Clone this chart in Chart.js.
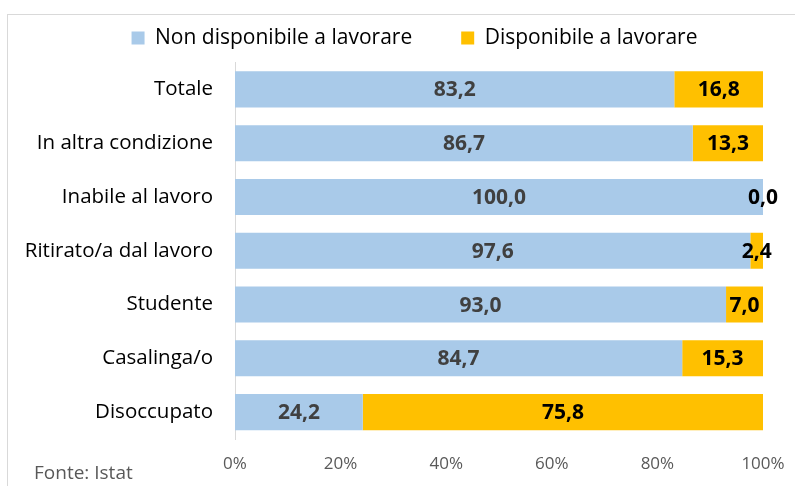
<!DOCTYPE html>
<html><head><meta charset="utf-8">
<script src="https://cdn.jsdelivr.net/npm/chart.js@4.4.0/dist/chart.umd.min.js"></script>
<style>html,body{margin:0;padding:0;background:#fff}#wrap{width:795px;height:486px}</style>
</head><body><div id="wrap"><canvas id="c" width="795" height="486"></canvas></div>
<script>
const categories = ["Totale","In altra condizione","Inabile al lavoro","Ritirato/a dal lavoro","Studente","Casalinga/o","Disoccupato"];
const nonDisponibile = [83.2, 86.7, 100.0, 97.6, 93.0, 84.7, 24.2];
const disponibile = [16.8, 13.3, 0.0, 2.4, 7.0, 15.3, 75.8];
const seriesNames = ["Non disponibile a lavorare","Disponibile a lavorare"];
const xTicks = [0, 20, 40, 60, 80, 100];
const sourceNote = "Fonte: Istat";

const FONT = "'Open Sans', sans-serif";
const LEGEND_SHIFT = 33;
const LEGEND_LIFT = 4;

const decor = {
  id: 'decor',
  afterLayout(chart) {
    if (chart.legend) {
      chart.legend.left += LEGEND_SHIFT; chart.legend.right += LEGEND_SHIFT;
      chart.legend.top -= LEGEND_LIFT; chart.legend.bottom -= LEGEND_LIFT;
    }
  },
  beforeDraw(chart) {
    const ctx = chart.ctx;
    ctx.save();
    ctx.fillStyle = '#fff';
    ctx.fillRect(0, 0, chart.width, chart.height);
    ctx.strokeStyle = '#d9d9d9';
    ctx.lineWidth = 1;
    ctx.strokeRect(7.5, 14.5, 800, 500);
    ctx.restore();
  },
  afterDraw(chart) {
    const ctx = chart.ctx;
    ctx.save();
    ctx.font = "19px " + FONT;
    ctx.fillStyle = '#595959';
    ctx.textBaseline = 'middle';
    ctx.fillText(sourceNote, 34, 474);
    // value labels
    ctx.font = "bold 21px " + FONT;
    ctx.textAlign = 'center';
    chart.data.datasets.forEach((ds, di) => {
      const meta = chart.getDatasetMeta(di);
      meta.data.forEach((bar, i) => {
        const v = ds.data[i];
        const cx = (bar.x + bar.base) / 2;
        ctx.fillStyle = di === 0 ? '#404040' : '#000';
        ctx.fillText(v.toFixed(1).replace('.', ','), cx, bar.y + 1);
      });
    });
    ctx.restore();
  }
};

new Chart(document.getElementById('c'), {
  type: 'bar',
  data: {
    labels: categories,
    datasets: [
      { label: seriesNames[0], data: nonDisponibile, backgroundColor: '#a9cae9', borderWidth: 0, categoryPercentage: 1, barPercentage: 0.67 },
      { label: seriesNames[1], data: disponibile, backgroundColor: '#ffc000', borderWidth: 0, categoryPercentage: 1, barPercentage: 0.67 }
    ]
  },
  options: {
    indexAxis: 'y',
    responsive: false,
    animation: false,
    layout: { autoPadding: false, padding: { left: 0, right: 32, top: 14, bottom: 0 } },
    plugins: {
      legend: {
        position: 'top',
        labels: {
          font: { family: FONT, size: 21 }, color: '#000', boxWidth: 13, boxHeight: 13, padding: 17.5,
          generateLabels(chart) {
            const items = Chart.defaults.plugins.legend.labels.generateLabels(chart);
            items.forEach((it, i) => { it.lineWidth = 0; if (i === 0) it.text = it.text + '\u2003\u2002'; });
            return items;
          }
        }
      },
      tooltip: { enabled: false }
    },
    scales: {
      x: {
        stacked: true, min: 0, max: 100,
        afterBuildTicks(s) { s.ticks = xTicks.map(v => ({ value: v })); },
        afterFit(s) { s.height = 47; s.paddingLeft = 0; s.paddingRight = 0; },
        grid: { display: false, drawTicks: false },
        border: { display: false },
        ticks: { color: '#595959', font: { family: FONT, size: 17 }, padding: 15, callback: v => v + '%' }
      },
      y: {
        stacked: true,
        afterFit(s) { s.width = 235; },
        grid: { display: false, drawTicks: false },
        border: { display: true, color: '#d9d9d9', width: 1 },
        ticks: { color: '#000', font: { family: FONT, size: 20.5 }, padding: 22 }
      }
    }
  },
  plugins: [decor]
});
</script></body></html>
